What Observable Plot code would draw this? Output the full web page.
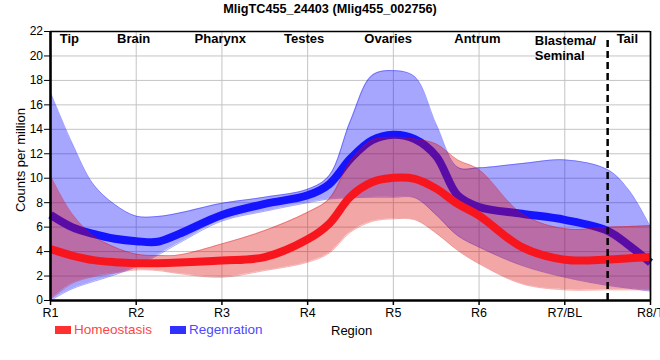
<!DOCTYPE html>
<html>
<head>
<meta charset="utf-8">
<script src="https://cdn.jsdelivr.net/npm/d3@7"></script>
<script src="https://cdn.jsdelivr.net/npm/@observablehq/plot@0.6"></script>
<style>
  body { margin: 0; background: #fff; font-family: "Liberation Sans", Arial, sans-serif; }
  #wrap { position: relative; width: 660px; height: 360px; overflow: hidden; }
  #title { position: absolute; left: 0; top: 0; width: 660px; height: 18px; line-height: 18px; text-align: center; font-weight: bold; font-size: 12.7px; color: #000; }
  #chart { position: absolute; left: 0; top: 18px; }
  #ylab { position: absolute; left: 20px; top: 160px; transform: translate(-50%, -50%) rotate(-90deg); white-space: nowrap; font-size: 13px; color: #000; }
  .sw { position: absolute; width: 16px; height: 8px; }
  .lt { position: absolute; font-size: 13.5px; line-height: 16px; white-space: nowrap; }
</style>
</head>
<body>
<div id="wrap">
  <div id="title"></div>
  <div id="chart"></div>
  <div id="ylab"></div>
  <div class="sw" style="left:55px; top:326px; background:#ff3030;"></div>
  <div class="lt" id="leg0" style="left:74px; top:322px; color:#ff4545;"></div>
  <div class="sw" style="left:170px; top:326px; background:#3030ff;"></div>
  <div class="lt" id="leg1" style="left:189px; top:322px; color:#4a4aff;"></div>
  <div class="lt" id="xlab" style="left:331px; top:323px; color:#000; font-size:13px;"></div>
</div>
<script>
// ---- data ----
const titleText = "MligTC455_24403 (Mlig455_002756)";
const yLabel = "Counts per million";
const xLabel = "Region";
const seriesNames = ["Homeostasis", "Regenration"];
const xTickLabels = ["R1", "R2", "R3", "R4", "R5", "R6", "R7/BL", "R8/T"];
const yTicks = [0, 2, 4, 6, 8, 10, 12, 14, 16, 18, 20, 22];
const regionNames = ["Tip", "Brain", "Pharynx", "Testes", "Ovaries", "Antrum", "Tail"];
const regionAt = [0.22, 0.97, 1.98, 2.96, 3.94, 4.98, 6.73];
const region2Name = ["Blastema/\nSeminal"];
const region2At = [5.65];
const dividerAt = [6.5];

const pos = [0, 0.25, 0.5, 0.75, 1, 1.25, 1.5, 2, 2.5, 3, 3.25, 3.5, 3.75, 4, 4.25, 4.5, 4.75, 5, 5.5, 6, 6.5, 6.75, 7];
const homeoMean  = [4.2, 3.68, 3.3, 3.13, 3.05, 3.05, 3.1, 3.27, 3.55, 5.0, 6.27, 8.5, 9.67, 10.03, 9.95, 9.15, 7.9, 6.95, 4.36, 3.33, 3.35, 3.45, 3.55];
const homeoUpper = [10.2, 7.1, 5.3, 4.36, 3.79, 3.68, 3.73, 4.63, 5.72, 7.22, 8.3, 11.4, 13.1, 13.35, 13.2, 12.8, 11.5, 10.7, 7.1, 5.86, 6.0, 6.05, 6.13];
const homeoLower = [0.1, 1.4, 1.95, 2.25, 2.5, 2.45, 2.2, 1.9, 2.45, 3.13, 3.87, 5.59, 6.46, 6.68, 6.6, 5.5, 4.1, 3.0, 1.36, 0.87, 0.87, 0.87, 0.87];
const regenMean  = [7.0, 6.0, 5.45, 5.05, 4.85, 4.8, 5.45, 7.0, 7.9, 8.6, 9.5, 11.6, 13.1, 13.55, 13.2, 11.8, 8.6, 7.65, 7.1, 6.6, 5.7, 4.5, 3.1];
const regenUpper = [17.0, 12.9, 9.5, 7.85, 6.9, 6.87, 7.15, 7.95, 8.45, 9.1, 10.2, 14.7, 18.4, 18.8, 18.3, 14.4, 10.9, 10.85, 11.2, 11.5, 10.7, 9.0, 6.0];
const regenLower = [0, 0.95, 1.55, 2.1, 2.78, 3.7, 4.7, 6.5, 7.3, 8.0, 8.3, 8.4, 8.45, 8.45, 8.4, 7.0, 5.3, 4.36, 2.86, 1.9, 1.23, 1.0, 0.76];

// ---- build ----
const rows = pos.map((p, i) => ({
  p, hm: homeoMean[i], hu: homeoUpper[i], hl: homeoLower[i],
  rm: regenMean[i], ru: regenUpper[i], rl: regenLower[i]
}));
const regions = regionNames.map((n, i) => ({n, x: regionAt[i]}));
const regions2 = region2Name.map((n, i) => ({n, x: region2At[i]}));
const xTicks = xTickLabels.map((_, i) => i);

const curve = "catmull-rom";
const BLUE = "#0000ff", RED = "#dd0000";

const svg = Plot.plot({
  width: 660,
  height: 300,
  marginTop: 13,
  marginBottom: 18,
  marginLeft: 50,
  marginRight: 10,
  style: {fontFamily: "'Liberation Sans', Arial, sans-serif", fontSize: "12px", color: "#000", background: "transparent", overflow: "visible"},
  x: {domain: [0, 7]},
  y: {domain: [0, 22]},
  marks: [
    Plot.gridY(yTicks.filter(d => d > 0 && d < 22), {stroke: "#c4c4c4", strokeOpacity: 1, strokeWidth: 1}),
    Plot.gridX(xTicks.filter(d => d > 0 && d < 7), {stroke: "#c4c4c4", strokeOpacity: 1, strokeWidth: 1}),
    // Regeneration band and line
    Plot.areaY(rows, {x: "p", y1: "rl", y2: "ru", fill: BLUE, fillOpacity: 0.35, curve}),
    Plot.line(rows, {x: "p", y: "ru", stroke: BLUE, strokeOpacity: 0.35, strokeWidth: 1, curve}),
    Plot.line(rows, {x: "p", y: "rl", stroke: BLUE, strokeOpacity: 0.35, strokeWidth: 1, curve}),
    Plot.line(rows, {x: "p", y: "rm", stroke: "#1414ff", strokeWidth: 8, strokeLinecap: "butt", curve}),
    // Homeostasis band and line
    Plot.areaY(rows, {x: "p", y1: "hl", y2: "hu", fill: RED, fillOpacity: 0.35, curve}),
    Plot.line(rows, {x: "p", y: "hu", stroke: RED, strokeOpacity: 0.3, strokeWidth: 1, curve}),
    Plot.line(rows, {x: "p", y: "hl", stroke: RED, strokeOpacity: 0.3, strokeWidth: 1, curve}),
    Plot.line(rows, {x: "p", y: "hm", stroke: "#f8161e", strokeWidth: 8, strokeLinecap: "butt", curve}),
    // divider
    Plot.ruleX(dividerAt, {y1: 0, y2: 22, stroke: "#000", strokeWidth: 2.5, strokeDasharray: "7,4", insetBottom: -5}),
    // frame
    Plot.ruleY([22], {stroke: "#000", strokeWidth: 1.5}),
    Plot.ruleX([7], {stroke: "#000", strokeWidth: 1.7}),
    Plot.ruleX([0], {stroke: "#000", strokeWidth: 2.6}),
    Plot.ruleY([0], {stroke: "#000", strokeWidth: 2.6}),
    // axes
    Plot.axisX(xTicks, {tickFormat: d => xTickLabels[d], tickSize: 5, tickPadding: 2.5, fontSize: 12.5, label: null, stroke: "#000", strokeWidth: 1.5}),
    Plot.axisY(yTicks, {tickSize: 6, tickPadding: 1.5, fontSize: 12, label: null, stroke: "#000"}),
    // region labels
    Plot.text(regions, {x: "x", text: "n", frameAnchor: "top", lineAnchor: "top", dy: 2.5, fontSize: 13, fontWeight: "bold", fill: "#000"}),
    Plot.text(regions2, {x: "x", text: "n", frameAnchor: "top", lineAnchor: "top", dy: 2.5, fontSize: 13, fontWeight: "bold", fill: "#000", textAnchor: "start", lineHeight: 1.15})
  ]
});
document.getElementById("chart").appendChild(svg);
document.getElementById("title").textContent = titleText;
document.getElementById("ylab").textContent = yLabel;
document.getElementById("leg0").textContent = seriesNames[0];
document.getElementById("leg1").textContent = seriesNames[1];
document.getElementById("xlab").textContent = xLabel;
</script>
</body>
</html>
